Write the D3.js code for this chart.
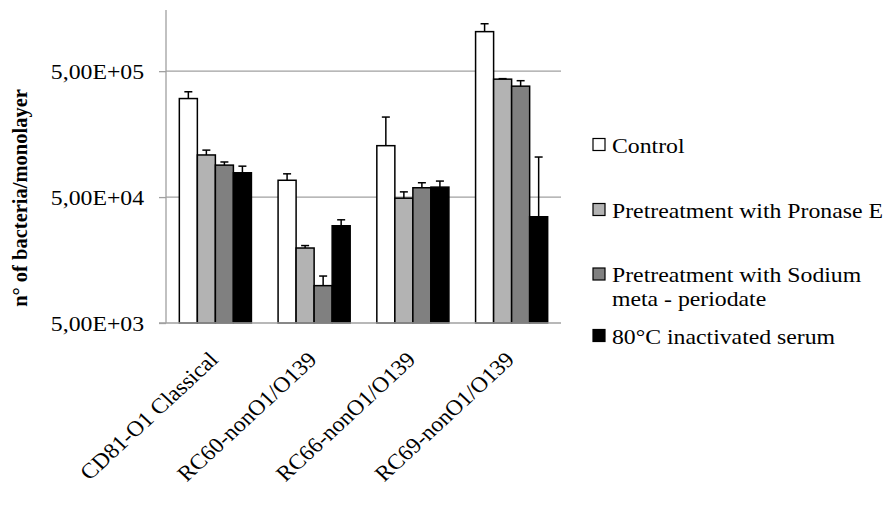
<!DOCTYPE html>
<meta charset="utf-8">
<style>
  body { margin: 0; background: #fff; }
  svg text { font-family: "Liberation Serif", "Times New Roman", serif; fill: #000; }
</style>
<svg width="892" height="505" font-family="Liberation Serif, Times New Roman, serif"></svg>
<script src="https://d3js.org/d3.v7.min.js"></script>
<script>

var strains = ["CD81-O1 Classical", "RC60-nonO1/O139", "RC66-nonO1/O139", "RC69-nonO1/O139"];
var treatments = ["Control", "Pretreatment with Pronase E", "Pretreatment with Sodium meta - periodate", "80°C inactivated serum"];
var legendLines = [["Control"], ["Pretreatment with Pronase E"], ["Pretreatment with Sodium", "meta - periodate"], ["80°C inactivated serum"]];
var fills = ["#ffffff", "#b3b3b3", "#808080", "#000000"];

// one array per treatment, values by strain
var control  = [303000, 68000, 128000, 1030000];
var pronase  = [108000, 19700, 49000, 432000];
var sodium   = [89700,  9900,  59300, 380000];
var heated   = [78000,  29600, 60000, 34900];
// top of the error bar
var controlErr = [343000, 76500, 216000, 1190000];
var pronaseErr = [118000, 20600, 55000, 436000];
var sodiumErr  = [95000,  11800, 65000, 420000];
var heatedErr  = [88000,  33000, 67000, 104000];

var yTicks = [5000, 50000, 500000];

var series = [control, pronase, sodium, heated];
var errs = [controlErr, pronaseErr, sodiumErr, heatedErr];

var svg = d3.select("svg");
var plotL = 166, plotR = 561, plotT = 10, plotB = 323;
var sx = 1.08; // the picture's text is a bit wide

var x = d3.scaleBand().domain(strains).range([plotL, plotR]).paddingInner(0.27).paddingOuter(0.135);
var xs = d3.scaleBand().domain(d3.range(4)).range([0, x.bandwidth()]);
var y = d3.scaleLog().domain([5000, 1530000]).range([plotB, plotT]);

// gridlines
svg.append("g").selectAll("line").data(yTicks.slice(1)).join("line")
    .attr("x1", plotL).attr("x2", plotR)
    .attr("y1", function(d) { return y(d); }).attr("y2", function(d) { return y(d); })
    .attr("stroke", "#a0a0a0").attr("stroke-width", 1.3);

// y axis
var yAxis = svg.append("g").attr("transform", "translate(" + plotL + ",0)")
    .call(d3.axisLeft(y).tickValues(yTicks).tickSize(7).tickPadding(15)
      .tickFormat(function(d) { return "5,00E+0" + Math.round(Math.log10(d / 5)); }));
yAxis.attr("font-family", null);
yAxis.select(".domain").remove();
yAxis.selectAll(".tick line").attr("stroke", "#a0a0a0").attr("stroke-width", 1.3);
yAxis.selectAll(".tick text")
    .style("font-size", "22px").attr("fill", "#000")
    .attr("transform", "translate(-22,0) scale(" + sx + ",1) translate(22,0)");
svg.append("line").attr("x1", plotL).attr("x2", plotL).attr("y1", plotT).attr("y2", plotB)
    .attr("stroke", "#a0a0a0").attr("stroke-width", 1.3);

// bars
var groups = svg.append("g").selectAll("g").data(series).join("g");
groups.selectAll("rect").data(function(d, i) { return d.map(function(v, j) { return {s: i, c: j, v: v}; }); })
  .join("rect")
    .attr("x", function(d) { return x(strains[d.c]) + xs(d.s); })
    .attr("width", xs.bandwidth())
    .attr("y", function(d) { return y(d.v); })
    .attr("height", function(d) { return plotB - y(d.v); })
    .attr("fill", function(d) { return fills[d.s]; })
    .attr("stroke", "#000").attr("stroke-width", 1.5);

// error bars (upper only)
var eb = svg.append("g").attr("stroke", "#000").attr("stroke-width", 1.5);
series.forEach(function(s, i) {
  s.forEach(function(v, j) {
    var cx = x(strains[j]) + xs(i) + xs.bandwidth() / 2;
    eb.append("line").attr("x1", cx).attr("x2", cx).attr("y1", y(v)).attr("y2", y(errs[i][j]));
    eb.append("line").attr("x1", cx - 4).attr("x2", cx + 4).attr("y1", y(errs[i][j])).attr("y2", y(errs[i][j]));
  });
});

// bottom axis line
svg.append("line").attr("x1", plotL - 7).attr("x2", plotR).attr("y1", plotB).attr("y2", plotB)
    .attr("stroke", "#a0a0a0").attr("stroke-width", 1.3);

// x labels
svg.append("g").selectAll("text").data(strains).join("text")
    .attr("transform", function(d) {
      return "translate(" + (x(d) + x.bandwidth() / 2 + 4) + "," + (plotB + 38) + ") scale(" + sx + ",1) rotate(-45)";
    })
    .attr("text-anchor", "end")
    .style("font-size", "21.8px")
    .text(function(d) { return d; });

// y title
svg.append("text")
    .attr("transform", "translate(27,198) rotate(-90)")
    .attr("text-anchor", "middle")
    .style("font-size", "20.5px").style("font-weight", "bold")
    .text("n° of bacteria/monolayer");

// legend
var legendY = [144.5, 209.5, 274, 335.5];
var lg = svg.append("g").selectAll("g").data(treatments).join("g")
    .attr("transform", function(d, i) { return "translate(593," + legendY[i] + ")"; });
lg.append("rect").attr("x", 0).attr("y", -6).attr("width", 12).attr("height", 12)
    .attr("fill", function(d, i) { return fills[i]; })
    .attr("stroke", "#000").attr("stroke-width", 1.2);
lg.append("text").attr("transform", "translate(19,8) scale(" + sx + ",1)").style("font-size", "22px")
  .selectAll("tspan").data(function(d, i) { return legendLines[i]; }).join("tspan")
    .attr("x", 0).attr("dy", function(d, k) { return k ? 24 : 0; })
    .text(function(d) { return d; });

</script>
